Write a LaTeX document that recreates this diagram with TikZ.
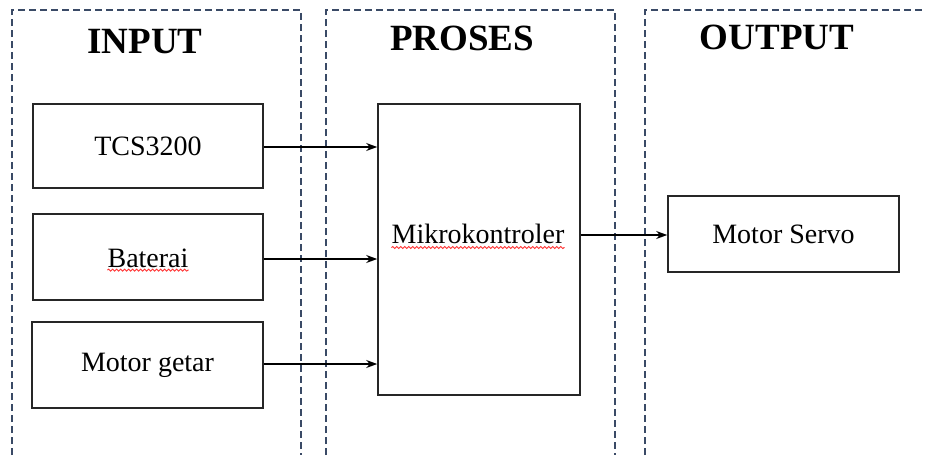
\documentclass[tikz,border=0pt]{standalone}
\usepackage{fontspec}
\setmainfont{Liberation Serif}
\usetikzlibrary{arrows.meta,decorations.pathmorphing}
\definecolor{panelblue}{HTML}{3A4A66}
\tikzset{
  panel/.style={draw=panelblue,line width=1.4pt,dash pattern=on 7pt off 4pt},
  blockbox/.style={draw=black!85,line width=1.6pt,fill=white,inner sep=0pt,font=\fontsize{28}{32}\selectfont},
  title/.style={font=\bfseries\fontsize{37}{42}\selectfont,inner sep=0pt},
  conn/.style={draw=black,line width=1.4pt,-{Stealth[length=11pt,width=8pt]}},
  spell/.style={draw=red!80,line width=0.9pt,decorate,decoration={snake,amplitude=1pt,segment length=4pt}},
  plain/.style={inner sep=0pt,font=\fontsize{28}{32}\selectfont}
}
\begin{document}
\begin{tikzpicture}[x=1pt,y=-1pt]
\useasboundingbox (0,0) rectangle (925,455);
\fill[white] (0,0) rectangle (925,455);
% panels
\draw[panel] (12,455) -- (12,10) -- (301,10) -- (301,455);
\draw[panel] (326,455) -- (326,10) -- (615,10) -- (615,455);
\draw[panel] (645,455) -- (645,10) -- (925,10);
% titles
\node[title] (tin) at (145,42) {INPUT};
\node[title] (tpr) at (462,38) {PROSES};
\node[title] (tout) at (777,37) {OUTPUT};
% boxes
\node[blockbox,minimum width=230pt,minimum height=84pt] (tcs) at (148,146) {TCS3200};
\node[blockbox,minimum width=230pt,minimum height=86pt] (bat) at (148,257) {};
\node[plain] (battext) at (148,258) {Baterai};
\node[blockbox,minimum width=231pt,minimum height=86pt] (mg) at (147.5,365) {Motor getar};
\node[blockbox,minimum width=202pt,minimum height=291pt] (mk) at (479,249.5) {};
\node[plain] (mktext) at (478,234) {Mikrokontroler};
\node[blockbox,minimum width=231pt,minimum height=76pt] (ms) at (783.5,234) {Motor Servo};
% spell-check underlines
\draw[spell] ([yshift=-3pt]battext.base west) -- ([yshift=-3pt]battext.base east);
\draw[spell] ([yshift=-4pt]mktext.base west) -- ([yshift=-4pt]mktext.base east);
% connectors
\draw[conn] ([yshift=-1pt]tcs.east) -- ([yshift=-1pt]tcs.east -| mk.west);
\draw[conn] ([yshift=-2pt]bat.east) -- ([yshift=-2pt]bat.east -| mk.west);
\draw[conn] ([yshift=1pt]mg.east) -- ([yshift=1pt]mg.east -| mk.west);
\draw[conn] ([yshift=-1pt]ms.west -| mk.east) -- ([yshift=-1pt]ms.west);
\end{tikzpicture}
\end{document}
